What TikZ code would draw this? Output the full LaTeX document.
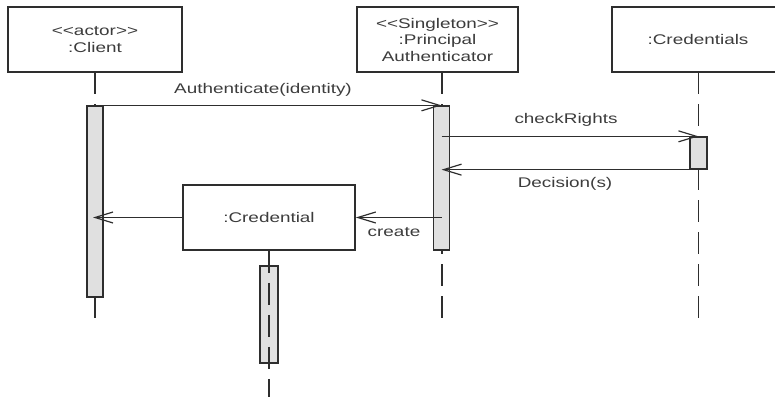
\documentclass[tikz,border=0pt]{standalone}
\usepackage{fontspec}
\setmainfont[FakeStretch=1.35,Ligatures=TeXOff]{Liberation Sans}
\usetikzlibrary{arrows.meta}
\definecolor{ink}{HTML}{2E2E2E}
\definecolor{txt}{HTML}{3C3C3C}
\definecolor{barfill}{HTML}{E0E0E0}
\begin{document}
\begin{tikzpicture}[x=1pt,y=-1pt,
  font=\fontsize{14}{16.5}\selectfont,
  objbox/.style={draw=ink,line width=1.5pt,fill=white,minimum height=65pt,
    inner sep=0pt,align=center,text=txt},
  actbar/.style={draw=ink,line width=1.3pt,fill=barfill,minimum width=16pt,inner sep=0pt},
  lifeline/.style={draw=ink,line width=1.4pt,dash pattern=on 22pt off 10pt},
  msg/.style={draw=ink,line width=1.3pt,-{Straight Barb[length=18pt,width=11pt,line width=1.2pt]}},
  lbl/.style={text=txt,inner sep=0pt}]
\useasboundingbox (0,0) rectangle (775,396);
\clip (0,0) rectangle (775,396);

% objects
\node[objbox,minimum width=174pt] (client) at (95,39.5) {<<actor>>\\:Client};
\node[objbox,minimum width=161pt] (principal) at (437.5,39.5) {<<Singleton>>\\:Principal\\Authenticator};
\node[objbox,minimum width=172pt] (creds) at (698,39.5) {:Credentials};

% lifeline ends
\coordinate (clientTop) at (95,72);
\coordinate (clientEnd) at (95,320);
\coordinate (principalTop) at (442,72);
\coordinate (principalEnd) at (442,320);
\coordinate (credsTop) at (698.5,72);
\coordinate (credsEnd) at (698.5,320);

\draw[lifeline] (clientTop) -- (clientEnd);
\draw[lifeline] (principalTop) -- (principalEnd);
\draw[lifeline] (credsTop) -- (credsEnd);

% activation bars
\node[actbar,minimum height=191pt] (cbar) at (95,201.5) {};
\node[actbar,minimum height=144pt] (pbar) at (441.5,178) {};
\node[actbar,minimum height=32pt,minimum width=17pt] (crbar) at (698.5,153) {};

% created object
\node[objbox,minimum width=172pt] (cred) at (269,217.5) {:Credential};
\node[actbar,minimum height=97pt,minimum width=18pt] (credbar) at (269,314.5) {};
\coordinate (credEnd) at (269,398);
\draw[lifeline] (cred.south) -- (credEnd);

% messages
\draw[msg] (cbar.north east) -- (pbar.north);
\node[lbl] (m1) at (263,90) {Authenticate(identity)};

\draw[msg] (pbar.center |- crbar.north) -- (crbar.north);
\node[lbl] (m2) at (566,120) {checkRights};

\draw[msg] (crbar.south west) -- (pbar.center |- crbar.south);
\node[lbl] (m3) at (565,184) {Decision(s)};

\draw[msg] (pbar.center |- cred.east) -- (cred.east);
\node[lbl] (m4) at (394,232) {create};

\draw[msg] (cred.west) -- ([xshift=-2pt]cbar.center |- cred.west);
\end{tikzpicture}
\end{document}
